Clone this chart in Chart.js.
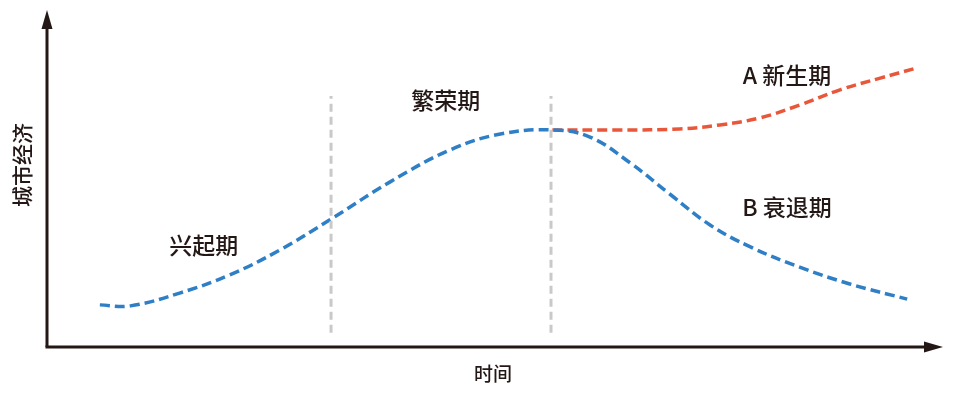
<!DOCTYPE html>
<html>
<head>
<meta charset="utf-8">
<script src="https://cdn.jsdelivr.net/npm/chart.js@4/dist/chart.umd.min.js"></script>
<style>
  html, body { margin: 0; padding: 0; background: #fff; }
  #wrap { width: 963px; height: 393px; position: relative; }
</style>
</head>
<body>
<div id="wrap"><canvas id="cityChart"></canvas></div>
<script>
// main curve: rise + boom + decline (B)
var mainX = [5.9, 9.3, 14.8, 20.4, 26.0, 31.9, 38.3, 45.0, 50.6, 56.4,
             60.6, 65.1, 69.5, 74.0, 78.5, 84.0, 89.6, 96.0];
var mainY = [12.5, 12.2, 16.0, 21.4, 28.8, 38.3, 49.0, 58.5, 63.2, 64.4,
             62.3, 54.6, 45.4, 36.2, 29.7, 23.7, 18.7, 14.2];
// branch A: renewal
var renewX = [56.4, 64.0, 70.6, 75.1, 79.6, 84.0, 88.5, 93.0, 97.1];
var renewY = [64.4, 64.4, 64.7, 65.9, 68.0, 71.8, 76.3, 79.8, 82.8];
// phase dividers
var dividerX = [31.7, 56.25];
var dividerSpan = [4.2, 74.5];
// phase labels
var phaseNames = ['兴起期', '繁荣期', 'A 新生期', 'B 衰退期'];
var phaseX = [17.5, 44.5, 82.6, 82.6];
var phaseY = [30.3, 73.3, 80.7, 41.5];
var xTitle = '时间';
var yTitle = '城市经济';

function toPoints(xs, ys) {
    return xs.map(function (x, i) { return { x: x, y: ys[i] }; });
}

var datasets = [];
dividerX.forEach(function (dx) {
    datasets.push({
        data: toPoints([dx, dx], dividerSpan),
        borderColor: '#c9c9c9',
        borderWidth: 3,
        borderDash: [8, 5],
        pointRadius: 0,
        tension: 0
    });
});
datasets.push({
    label: '城市经济',
    data: toPoints(mainX, mainY),
    borderColor: '#2f7fc6',
    borderWidth: 3.5,
    borderDash: [10, 5],
    pointRadius: 0,
    tension: 0.4
});
datasets.push({
    label: 'A 新生期',
    data: toPoints(renewX, renewY),
    borderColor: '#e9573b',
    borderWidth: 3.5,
    borderDash: [10, 5],
    pointRadius: 0,
    tension: 0.4
});

var fontCJK = '"Noto Sans CJK SC", "Noto Sans", sans-serif';
var ink = '#231815';

var decor = {
    id: 'decor',
    beforeDatasetsDraw: function (chart) {
        var ctx = chart.ctx, a = chart.chartArea;
        ctx.save();
        ctx.strokeStyle = ink;
        ctx.fillStyle = ink;
        ctx.lineWidth = 3;
        // y axis
        ctx.beginPath();
        ctx.moveTo(a.left, a.bottom);
        ctx.lineTo(a.left, a.top + 14);
        ctx.stroke();
        ctx.beginPath();
        ctx.moveTo(a.left, a.top);
        ctx.lineTo(a.left - 5.5, a.top + 19);
        ctx.lineTo(a.left + 5.5, a.top + 19);
        ctx.closePath();
        ctx.fill();
        // x axis
        ctx.beginPath();
        ctx.moveTo(a.left - 1.5, a.bottom);
        ctx.lineTo(a.right - 14, a.bottom);
        ctx.stroke();
        ctx.beginPath();
        ctx.moveTo(a.right, a.bottom);
        ctx.lineTo(a.right - 19, a.bottom - 5.5);
        ctx.lineTo(a.right - 19, a.bottom + 5.5);
        ctx.closePath();
        ctx.fill();
        ctx.restore();
    },
    afterDatasetsDraw: function (chart) {
        var ctx = chart.ctx, a = chart.chartArea;
        var xs = chart.scales.x, ys = chart.scales.y;
        ctx.save();
        ctx.fillStyle = ink;
        ctx.textAlign = 'center';
        ctx.textBaseline = 'middle';
        ctx.font = '500 23px ' + fontCJK;
        phaseNames.forEach(function (t, i) {
            ctx.fillText(t, xs.getPixelForValue(phaseX[i]), ys.getPixelForValue(phaseY[i]));
        });
        ctx.font = '500 19px ' + fontCJK;
        ctx.fillText(xTitle, 493, a.bottom + 27);
        ctx.translate(a.left - 25, ys.getPixelForValue(54));
        ctx.rotate(-Math.PI / 2);
        ctx.font = '500 21px ' + fontCJK;
        ctx.fillText(yTitle, 0, 0);
        ctx.restore();
    }
};

new Chart(document.getElementById('cityChart').getContext('2d'), {
    type: 'line',
    data: { datasets: datasets },
    options: {
        responsive: true,
        maintainAspectRatio: false,
        animation: false,
        layout: { padding: { left: 47, right: 20, top: 10, bottom: 46 } },
        scales: {
            x: { type: 'linear', min: 0, max: 100, display: false },
            y: { type: 'linear', min: 0, max: 100, display: false }
        },
        plugins: {
            legend: { display: false },
            tooltip: { enabled: false }
        }
    },
    plugins: [decor]
});
</script>
</body>
</html>
